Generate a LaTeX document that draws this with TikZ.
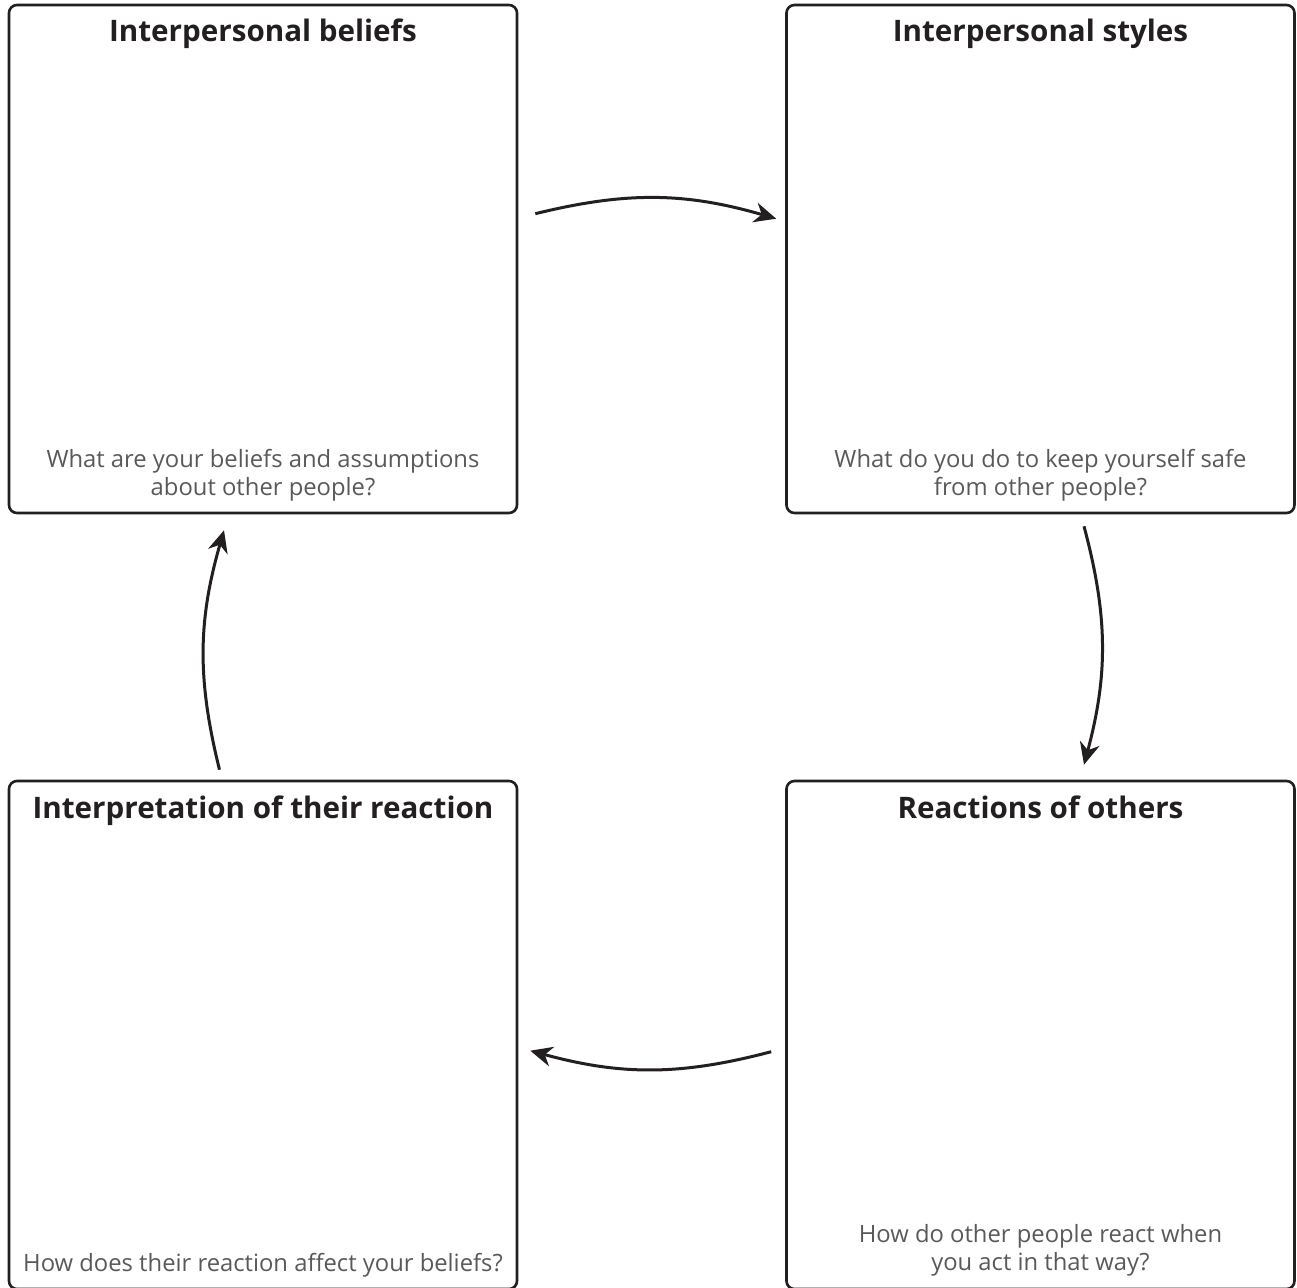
\documentclass[tikz,border=0pt]{standalone}
\usepackage{fontspec}
\setmainfont{Open Sans}
\usetikzlibrary{arrows.meta}

\definecolor{boxline}{HTML}{231F20}
\definecolor{asktext}{HTML}{58595B}

\tikzset{
  cyclebox/.style={draw=boxline, line width=1.3pt, rounded corners=4pt,
    minimum width=254pt, minimum height=254pt, inner sep=0pt},
  boxtitle/.style={font=\fontsize{14.8}{18}\selectfont\bfseries, text=boxline, anchor=base},
  boxask/.style={font=\fontsize{11.9}{14}\selectfont, text=asktext, align=center, anchor=base},
  cyclearrow/.style={draw=boxline, line width=1.5pt, -{Stealth[length=11pt, width=10pt, inset=3.5pt]}}
}

\begin{document}
\begin{tikzpicture}[x=0.5pt, y=0.5pt]
    \useasboundingbox (0,0) rectangle (1297,-1287);

    % the four boxes
    \node[cyclebox] (beliefs)   at (263,-259)    {};
    \node[cyclebox] (styles)    at (1040.5,-259) {};
    \node[cyclebox] (interp)    at (263,-1035)   {};
    \node[cyclebox] (reactions) at (1040.5,-1035) {};

    \node[boxtitle] (beliefs-t)   at ([yshift=-19pt]beliefs.north)   {Interpersonal beliefs};
    \node[boxtitle] (styles-t)    at ([yshift=-19pt]styles.north)    {Interpersonal styles};
    \node[boxtitle] (interp-t)    at ([yshift=-19.5pt]interp.north)  {Interpretation of their reaction};
    \node[boxtitle] (reactions-t) at ([yshift=-19.5pt]reactions.north) {Reactions of others};

    \node[boxask] (beliefs-q)   at ([yshift=9.5pt]beliefs.south)   {What are your beliefs and assumptions\\about other people?};
    \node[boxask] (styles-q)    at ([yshift=9.5pt]styles.south)    {What do you do to keep yourself safe\\from other people?};
    \node[boxask] (reactions-q) at ([yshift=10pt]reactions.south)  {How do other people react when\\you act in that way?};
    \node[boxask] (interp-q)    at ([yshift=9.5pt]interp.south)    {How does their reaction affect your beliefs?};

    % the cycle
    \draw[cyclearrow] ([xshift=8.5pt,yshift=-105pt]beliefs.north east)
        to[bend left=15] ([xshift=-4.5pt,yshift=-107.5pt]styles.north west);
    \draw[cyclearrow] ([xshift=21.75pt,yshift=-6pt]styles.south)
        to[bend left=15] ([xshift=21.75pt,yshift=7.5pt]reactions.north);
    \draw[cyclearrow] ([xshift=-7pt,yshift=-136pt]reactions.north west)
        to[bend left=15] ([xshift=6pt,yshift=-135.5pt]interp.north east);
    \draw[cyclearrow] ([xshift=-21.75pt,yshift=5pt]interp.north)
        to[bend left=15] ([xshift=-19.5pt,yshift=-8pt]beliefs.south);
\end{tikzpicture}
\end{document}
